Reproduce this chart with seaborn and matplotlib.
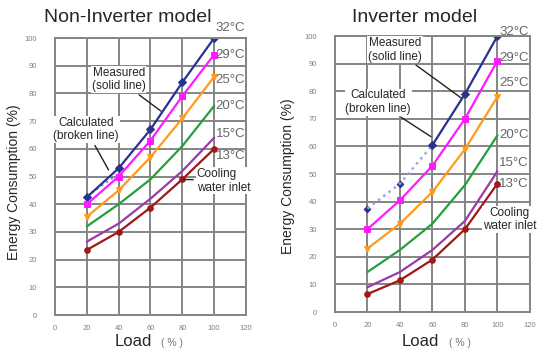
import numpy as np
import pandas as pd
import seaborn as sns
import matplotlib
matplotlib.use("Agg")
import matplotlib.pyplot as plt

# ---- data ----
load = [20, 40, 60, 80, 100]
temps = ["32°C", "29°C", "25°C", "20°C", "15°C", "13°C"]
colors = ["#27338f", "#ff1aff", "#ff9a1a", "#23a03a", "#9b3aa8", "#a01818"]
markers = ["D", "s", "v", "None", "None", "o"]

non_inv_32 = [42.5, 53, 67, 84, 100]
non_inv_29 = [40, 50, 63, 79, 94]
non_inv_25 = [35.5, 45, 57, 71, 86]
non_inv_20 = [32, 40, 49, 61, 75.5]
non_inv_15 = [26.5, 33, 42, 52, 64]
non_inv_13 = [23.5, 30, 38.8, 49, 60]
non_inv_calc_load = [20, 30, 40]
non_inv_calc_32 = [43, 47, 51]

inv_32_load = [60, 80, 100]
inv_32 = [60.5, 79, 100]
inv_29 = [30, 40.5, 53, 70, 91]
inv_25 = [23, 32, 43.5, 59, 78]
inv_20 = [14.5, 22.5, 32, 46, 64]
inv_15 = [9, 14.5, 22.5, 33, 51]
inv_13 = [6.5, 11.5, 19, 30, 46.5]
inv_calc_load = [20, 40, 60]
inv_calc_32 = [37.5, 46.5, 60.5]
inv_meas_32 = [37.5, 46.5]

non_inv_label_y = [103.5, 94, 85, 75.5, 65.5, 57.5]
inv_label_y = [101.5, 92, 83, 64, 54, 46.5]

sns.set_theme(style="whitegrid")
plt.rcParams["font.family"] = ["Liberation Sans", "DejaVu Sans"]

fig = plt.figure(figsize=(5.37, 3.52), dpi=100)
ax1 = fig.add_axes([0.1024, 0.105, 0.3557, 0.787])
ax2 = fig.add_axes([0.6238, 0.1136, 0.363, 0.784])


def style_axes(ax):
    ax.set_xlim(0, 120)
    ax.set_ylim(0, 100)
    ax.set_xticks(range(0, 121, 20))
    ax.set_yticks(range(0, 101, 10))
    ax.grid(True, color="#858585", linewidth=1.4)
    for s in ax.spines.values():
        s.set_color("#858585")
        s.set_linewidth(1.4)
    ax.tick_params(labelsize=5.5, colors="#808080", length=0)
    ax.tick_params(axis="y", pad=13)
    ax.tick_params(axis="x", pad=7)
    ax.set_xlabel("")
    ax.set_ylabel("")


def draw_series(ax, x, y, color, marker, lw=1.6, ms=4):
    sns.lineplot(x=x, y=y, ax=ax, color=color, marker=marker, markersize=ms,
                 markeredgecolor=color, linewidth=lw)


note = dict(fontsize=8.5, bbox=dict(fc="white", ec="none", pad=0.5))
arrow = dict(arrowstyle="-", color="#222222", lw=1)

# ---- Non-Inverter ----
nv = [non_inv_32, non_inv_29, non_inv_25, non_inv_20, non_inv_15, non_inv_13]
sns.lineplot(x=non_inv_calc_load, y=non_inv_calc_32, ax=ax1, color="#7a86d8",
             linestyle=":", linewidth=1.6)
for vals, c, m in zip(nv, colors, markers):
    draw_series(ax1, load, vals, c, m, ms=4 if m != "s" else 5)
style_axes(ax1)
for t, yy in zip(temps, non_inv_label_y):
    ax1.text(101, yy, t, fontsize=9.5, color="#666666", va="center", ha="left",
             clip_on=False)
ax1.annotate("Measured\n(solid line)", xy=(68, 73), xytext=(40, 85),
             ha="center", va="center", arrowprops=arrow, **note)
ax1.annotate("Calculated\n(broken line)", xy=(34.5, 51.5), xytext=(19.5, 67),
             ha="center", va="center", arrowprops=arrow, **note)
ax1.annotate("Cooling\nwater inlet", xy=(79, 49), xytext=(89, 48.5),
             ha="left", va="center", arrowprops=arrow, **note)

# ---- Inverter ----
sns.lineplot(x=inv_calc_load, y=inv_calc_32, ax=ax2, color="#9aa4e6",
             linestyle=":", linewidth=1.8)
sns.scatterplot(x=[20, 40], y=inv_meas_32, ax=ax2, color=colors[0], marker="D",
                s=14, edgecolor=colors[0])
draw_series(ax2, inv_32_load, inv_32, colors[0], "D")
iv = [inv_29, inv_25, inv_20, inv_15, inv_13]
for vals, c, m in zip(iv, colors[1:], markers[1:]):
    draw_series(ax2, load, vals, c, m, ms=4 if m != "s" else 5)
style_axes(ax2)
for t, yy in zip(temps, inv_label_y):
    ax2.text(101, yy, t, fontsize=9.5, color="#666666", va="center", ha="left",
             clip_on=False)
ax2.annotate("Measured\n(solid line)", xy=(79, 77), xytext=(37, 95),
             ha="center", va="center", arrowprops=arrow, **note)
ax2.annotate("Calculated\n(broken line)", xy=(60.5, 63), xytext=(26.5, 76),
             ha="center", va="center", arrowprops=arrow, **note)
ax2.text(107.5, 33.5, "Cooling\nwater inlet", ha="center", va="center",
         clip_on=False, **note)

# titles and axis labels placed like the reference
fig.text(128 / 537, 1 - 18 / 352, "Non-Inverter model", fontsize=14,
         ha="center", va="center")
fig.text(415 / 537, 1 - 18 / 352, "Inverter model", fontsize=14,
         ha="center", va="center")
for xl, xp in ((133, 172), (420, 460)):
    fig.text(xl / 537, 1 - 341 / 352, "Load", fontsize=12, ha="center",
             va="center")
    fig.text(xp / 537, 1 - 343 / 352, "( % )", fontsize=7.5, color="#777777",
             ha="center", va="center")
fig.text(14 / 537, 1 - 182 / 352, "Energy Consumption (%)", fontsize=10,
         rotation=90, ha="center", va="center")
fig.text(288 / 537, 1 - 176 / 352, "Energy Consumption (%)", fontsize=10,
         rotation=90, ha="center", va="center")

fig.savefig("out.png", dpi=100)
